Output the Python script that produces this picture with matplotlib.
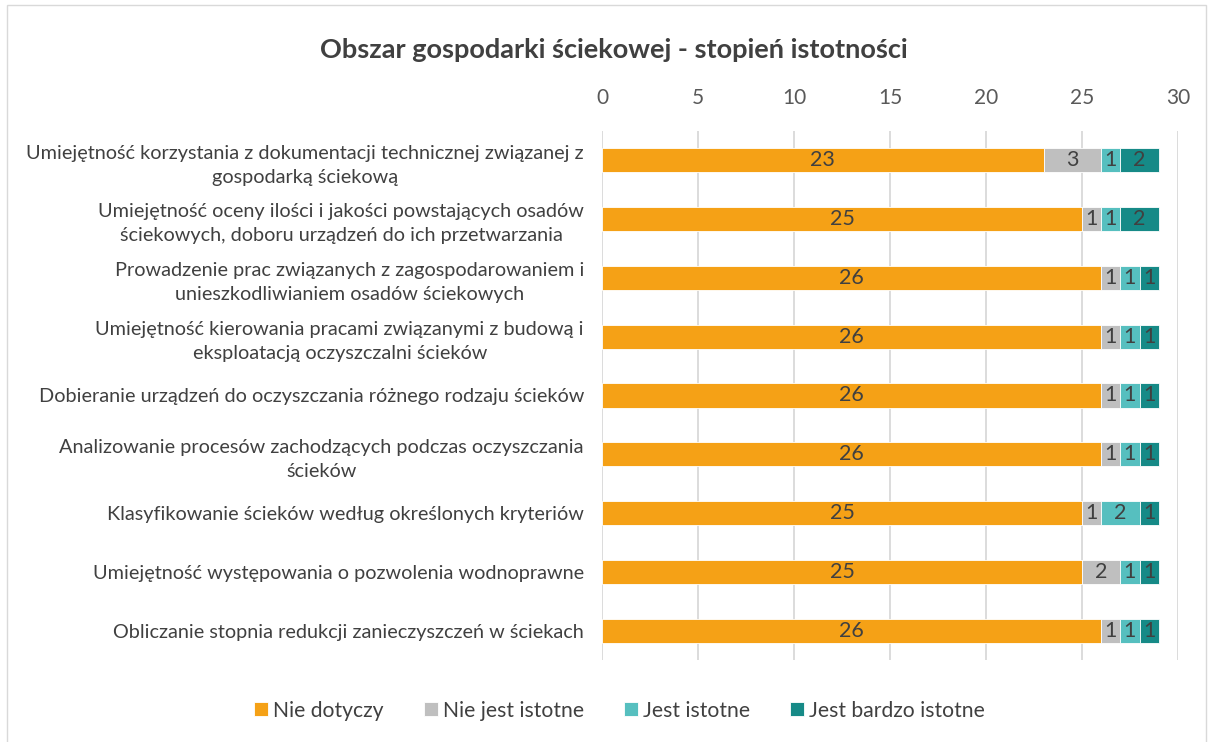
import numpy as np
import matplotlib.pyplot as plt
from matplotlib.patches import Rectangle

plt.rcParams['font.family'] = ['Lato', 'DejaVu Sans']

categories = [
    "Umiejętność korzystania z dokumentacji technicznej związanej z\ngospodarką ściekową",
    "Umiejętność oceny ilości i jakości powstających osadów\nściekowych, doboru urządzeń do ich przetwarzania",
    "Prowadzenie prac związanych z zagospodarowaniem i\nunieszkodliwianiem osadów ściekowych",
    "Umiejętność kierowania pracami związanymi z budową i\neksploatacją oczyszczalni ścieków",
    "Dobieranie urządzeń do oczyszczania różnego rodzaju ścieków",
    "Analizowanie procesów zachodzących podczas oczyszczania\nścieków",
    "Klasyfikowanie ścieków według określonych kryteriów",
    "Umiejętność występowania o pozwolenia wodnoprawne",
    "Obliczanie stopnia redukcji zanieczyszczeń w ściekach",
]
nie_dotyczy = [23, 25, 26, 26, 26, 26, 25, 25, 26]
nie_istotne = [3, 1, 1, 1, 1, 1, 1, 2, 1]
istotne = [1, 1, 1, 1, 1, 1, 2, 1, 1]
bardzo_istotne = [2, 2, 1, 1, 1, 1, 1, 1, 1]

series = [
    ("Nie dotyczy", nie_dotyczy, "#F5A116"),
    ("Nie jest istotne", nie_istotne, "#BFBFBF"),
    ("Jest istotne", istotne, "#56BFBF"),
    ("Jest bardzo istotne", bardzo_istotne, "#168A87"),
]

fig = plt.figure(figsize=(12.13, 7.42), dpi=100)
ax = fig.add_axes([0.4963, 0.110, 0.4748, 0.714])

y = np.arange(len(categories))
left = np.zeros(len(categories))
for name, vals, col in series:
    vals = np.array(vals)
    ax.barh(y, vals, left=left, height=0.41, color=col, label=name,
            edgecolor='white', linewidth=0.6, zorder=3)
    for yi, l, v in zip(y, left, vals):
        ax.text(l + v / 2, yi, str(v), ha='center', va='center',
                fontsize=15.5, color='#404040', zorder=4)
    left = left + vals

ax.set_ylim(len(categories) - 0.5, -0.5)
ax.set_xlim(0, 30)
ax.set_xticks(range(0, 31, 5))
ax.xaxis.tick_top()
ax.tick_params(axis='x', length=0, labelsize=15, labelcolor='#595959', pad=16)
ax.tick_params(axis='y', length=0, labelsize=14.3, labelcolor='#404040', pad=13)
ax.set_yticks(y)
ax.set_yticklabels(categories, ha='right', linespacing=1.5)
for lbl in ax.get_yticklabels():
    lbl.set_multialignment('center')
ax.grid(axis='x', color='#D9D9D9', linewidth=1.3, zorder=0)
for s in ax.spines.values():
    s.set_visible(False)

fig.text(0.506, 0.933, "Obszar gospodarki ściekowej - stopień istotności",
         ha='center', va='center', fontsize=19.5, fontweight='bold', color='#404040')

fig.legend(loc='center', bbox_to_anchor=(0.511, 0.042), ncol=4, frameon=False,
           fontsize=15.2, labelcolor='#404040', handlelength=0.65, handleheight=0.65,
           handletextpad=0.25, columnspacing=1.9)

fig.patches.append(Rectangle((0.006, -0.01), 0.988, 1.003, transform=fig.transFigure,
                             fill=False, edgecolor='#D9D9D9', linewidth=1))

fig.savefig("out.png", dpi=100)
